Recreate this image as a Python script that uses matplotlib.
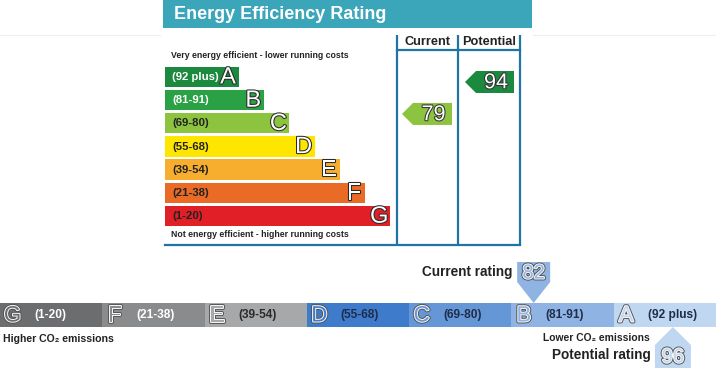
import matplotlib
matplotlib.use("Agg")
import matplotlib.pyplot as plt
from matplotlib.patches import Rectangle, Polygon
import matplotlib.patheffects as pe

# ---------------- data ----------------
bands = ["A", "B", "C", "D", "E", "F", "G"]
band_ranges = ["(92 plus)", "(81-91)", "(69-80)", "(55-68)", "(39-54)", "(21-38)", "(1-20)"]
band_lo = [92, 81, 69, 55, 39, 21, 1]
band_hi = [100, 91, 80, 68, 54, 38, 20]
eer_colors = ["#1b8a3e", "#2ba146", "#8cc33f", "#ffe600", "#f7ae2f", "#ea6b25", "#e01f26"]
eer_text_colors = ["white", "white", "#222222", "#222222", "#222222", "#222222", "#222222"]
ei_colors = ["#c0d7f1", "#8fb4e3", "#6597d7", "#3e7ccb", "#a7a8aa", "#8a8b8d", "#6c6d6f"]
ei_text_colors = ["#1f2d4a", "#1f2d4a", "#1f2d4a", "#1f2d4a", "#2a2a2a", "white", "white"]

current_eer = 79
potential_eer = 94
current_ei = 82
potential_ei = 96

title = "Energy Efficiency Rating"
col_headers = ["Current", "Potential"]
top_note = "Very energy efficient - lower running costs"
bottom_note = "Not energy efficient - higher running costs"
higher_co2 = "Higher CO\u2082 emissions"
lower_co2 = "Lower CO\u2082 emissions"
current_label = "Current rating"
potential_label = "Potential rating"

FONT = ["Liberation Sans", "DejaVu Sans"]
plt.rcParams["font.family"] = FONT

fig = plt.figure(figsize=(7.16, 3.68), dpi=100)
ax = fig.add_axes([0, 0, 1, 1])
ax.set_xlim(0, 716)
ax.set_ylim(368, 0)
ax.axis("off")

def outlined(x, y, s, size, fill="white", edge="#333333", lw=1.6, weight="normal", ha="center"):
    t = ax.text(x, y, s, fontsize=size, color=fill, ha=ha, va="center", weight=weight)
    t.set_path_effects([pe.Stroke(linewidth=lw, foreground=edge), pe.Normal()])
    return t

def hollow(x, y, s, size, bg):
    t = ax.text(x, y, s, fontsize=size, color=bg, ha="center", va="center")
    t.set_path_effects([pe.Stroke(linewidth=2.8, foreground="#505050"),
                        pe.Stroke(linewidth=1.5, foreground="#f4f4f4"), pe.Normal()])
    return t

# faint separators
ax.plot([0, 160], [35, 35], color="#eeeeee", lw=0.8)
ax.plot([533, 716], [35, 35], color="#eeeeee", lw=0.8)

# title banner
ax.add_patch(Rectangle((163, 0), 369, 28, color="#3ba6ba", lw=0))
ax.text(174, 14.5, title, fontsize=13, weight="bold", color="white", va="center", ha="left")

# columns
line_c = "#1e74a3"
for x in [396.5, 458, 520]:
    ax.plot([x, x], [35, 245], color=line_c, lw=1.6, solid_capstyle="butt")
ax.plot([396.5, 520], [50, 50], color=line_c, lw=1.6)
ax.plot([165, 520], [245, 245], color=line_c, lw=1.6)
ax.text(427.5, 42, col_headers[0], fontsize=9.2, weight="bold", ha="center", va="center", color="#222222")
ax.text(489, 42, col_headers[1], fontsize=9.2, weight="bold", ha="center", va="center", color="#222222")

ax.text(171, 56, top_note, fontsize=6.3, weight="bold", ha="left", va="center", color="#222222")
ax.text(171, 234.5, bottom_note, fontsize=6.3, weight="bold", ha="left", va="center", color="#222222")

# EER bars
for i, b in enumerate(bands):
    top = 66.5 + i * 23.2
    right = 239 + i * 25.2
    ax.add_patch(Rectangle((165, top), right - 165, 20.5, color=eer_colors[i], lw=0))
    ax.text(172, top + 10.5, band_ranges[i], fontsize=8.2, weight="bold",
            color=eer_text_colors[i], ha="left", va="center")
    outlined(right - 11, top + 11, b, 17, fill="white", edge="#2a2a2a", lw=1.5)

def eer_y(v):
    return 82 + (94 - v) * 2.13

def band_index(v):
    for i in range(len(bands)):
        if band_lo[i] <= v <= band_hi[i]:
            return i
    return len(bands) - 1

def eer_arrow(v, x0, x1):
    yc = eer_y(v)
    h = 11
    pts = [(x0, yc), (x0 + 11, yc - h), (x1, yc - h), (x1, yc + h), (x0 + 11, yc + h)]
    ax.add_patch(Polygon(pts, closed=True, color=eer_colors[band_index(v)], lw=0))
    outlined((x0 + 11 + x1) / 2 + 1, yc + 0.8, str(v), 15.5, fill="white", edge="#333333", lw=1.5)

eer_arrow(current_eer, 402, 452)
eer_arrow(potential_eer, 465, 514)

# Environmental impact strip (G .. A from left to right)
seg_w = 716 / 7
strip_top, strip_h = 303, 24
order = list(range(len(bands)))[::-1]
seg_left = {}
for k, i in enumerate(order):
    x0 = k * seg_w
    seg_left[i] = x0
    ax.add_patch(Rectangle((x0, strip_top), seg_w + 0.5, strip_h, color=ei_colors[i], lw=0))
    hollow(x0 + 12.5, strip_top + 13, bands[i], 16, ei_colors[i])
    ax.text(x0 + 34, strip_top + 12, band_ranges[i], fontsize=8.6, weight="bold",
            color=ei_text_colors[i], ha="left", va="center")

def ei_x(v):
    i = band_index(v)
    frac = (v - band_lo[i] + 1.5) / (band_hi[i] - band_lo[i] + 1.5)
    return seg_left[i] + frac * seg_w

ax.text(3, 339, higher_co2, fontsize=7.6, weight="bold", ha="left", va="center", color="#222222")
ax.text(650, 338, lower_co2, fontsize=7.4, weight="bold", ha="right", va="center", color="#222222")

# current EI marker (points down)
cx = ei_x(current_ei)
ci = band_index(current_ei)
pts = [(cx - 16.5, 262), (cx + 16.5, 262), (cx + 16.5, 282), (cx, strip_top), (cx - 16.5, 282)]
ax.add_patch(Polygon(pts, closed=True, color=ei_colors[ci], lw=0))
hollow(cx, 273, str(current_ei), 14.5, ei_colors[ci])
ax.text(cx - 21, 272, current_label, fontsize=9.8, weight="bold", ha="right", va="center", color="#222222")

# potential EI marker (points up)
px = ei_x(potential_ei)
pi = band_index(potential_ei)
sb = strip_top + strip_h
pts = [(px, sb), (px + 18, 345), (px + 18, 368), (px - 18, 368), (px - 18, 345)]
ax.add_patch(Polygon(pts, closed=True, color=ei_colors[pi], lw=0))
hollow(px, 357, str(potential_ei), 14.5, ei_colors[pi])
ax.text(px - 22, 355, potential_label, fontsize=9.8, weight="bold", ha="right", va="center", color="#222222")

fig.savefig("out.png", dpi=100)
